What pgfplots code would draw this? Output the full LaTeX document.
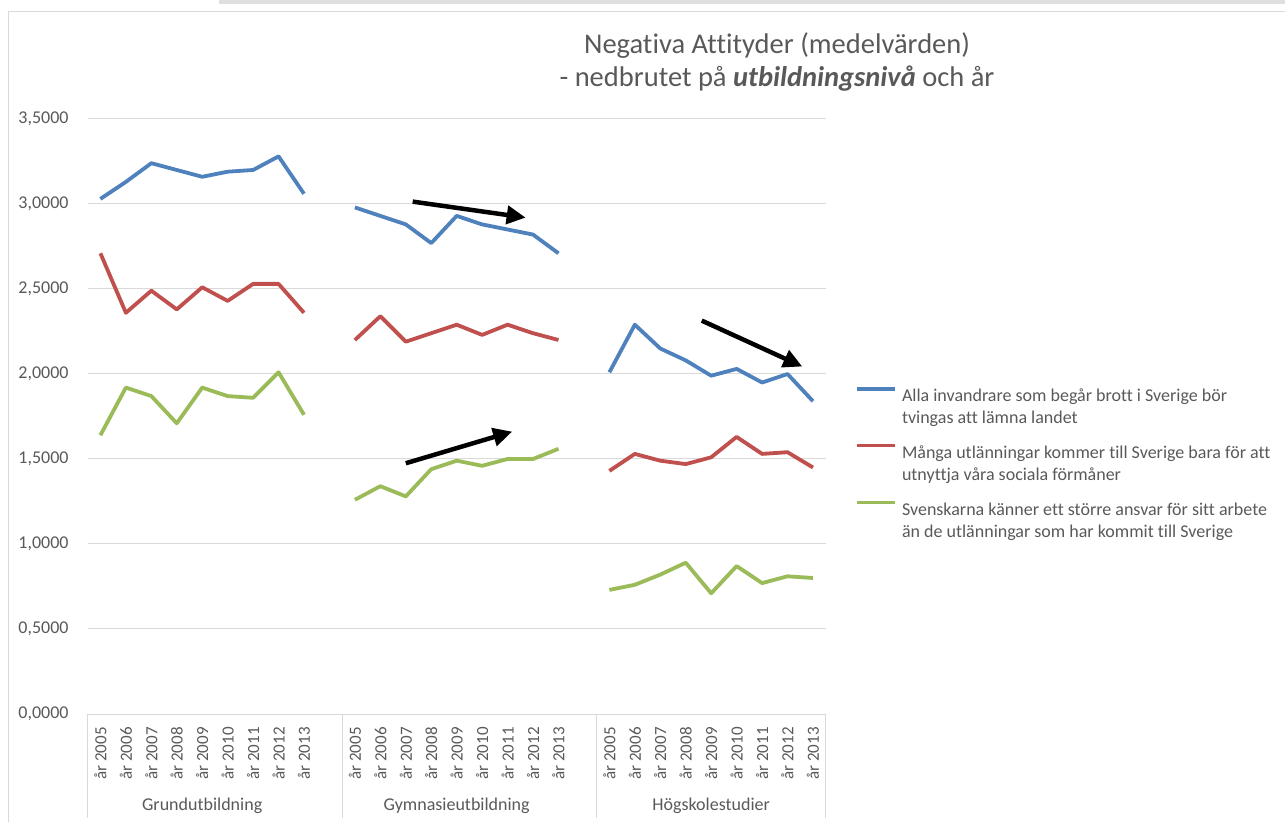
\documentclass[border=0pt]{standalone}
\usepackage{pgfplots}
\pgfplotsset{compat=1.18}
\usepackage{pgfplotstable}
\usepackage{fontspec}
\setmainfont{Carlito}[Ligatures=CommonOff]
\usetikzlibrary{arrows.meta}
\definecolor{cblue}{HTML}{4F81BD}
\definecolor{cred}{HTML}{C0504D}
\definecolor{cgreen}{HTML}{9BBB59}
\definecolor{ctext}{HTML}{595959}
\definecolor{cgrid}{HTML}{D9D9D9}

\pgfplotstableread{
x blue red green
0 3.03 2.71 1.64
1 3.13 2.36 1.92
2 3.24 2.49 1.87
3 3.20 2.38 1.71
4 3.16 2.51 1.92
5 3.19 2.43 1.87
6 3.20 2.53 1.86
7 3.28 2.53 2.01
8 3.06 2.36 1.76
9 nan nan nan
10 2.98 2.20 1.26
11 2.93 2.34 1.34
12 2.88 2.19 1.28
13 2.77 2.24 1.44
14 2.93 2.29 1.49
15 2.88 2.23 1.46
16 2.85 2.29 1.50
17 2.82 2.24 1.50
18 2.71 2.20 1.56
19 nan nan nan
20 2.01 1.43 0.73
21 2.29 1.53 0.76
22 2.15 1.49 0.82
23 2.08 1.47 0.89
24 1.99 1.51 0.71
25 2.03 1.63 0.87
26 1.95 1.53 0.77
27 2.00 1.54 0.81
28 1.84 1.45 0.80
}\datatable

\begin{document}
\begin{tikzpicture}
\useasboundingbox (0pt,0pt) rectangle (1285pt,822pt);
% frame of the screenshot
\fill[cgrid!85!white] (219pt,818pt) rectangle (1285pt,822pt);
\draw[cgrid, line width=1pt] (8pt,0pt) -- (8pt,810pt) -- (1285pt,810pt);
% title
\node[align=center, text=ctext, font=\fontsize{28.5}{33}\selectfont] at (777pt,760.5pt)
  {Negativa Attityder (medelvärden)\\- nedbrutet på \textbf{\textit{utbildningsnivå}} och år};

\begin{axis}[
  at={(87.7pt,108pt)}, anchor=south west,
  scale only axis, width=738pt, height=595pt,
  xmin=-0.5, xmax=28.5, ymin=0, ymax=3.5,
  clip=false,
  axis line style={draw=none},
  major tick length=0pt,
  ymajorgrids, grid style={cgrid, line width=1pt},
  ytick={0,0.5,1,1.5,2,2.5,3,3.5},
  /pgf/number format/assume math mode=true,
  yticklabel style={/pgf/number format/fixed, /pgf/number format/fixed zerofill,
    /pgf/number format/precision=4, /pgf/number format/use comma,
    font=\fontsize{18}{22}\selectfont, text=ctext, inner sep=0pt, anchor=east},
  yticklabel shift=19pt,
  xtick={0,1,2,3,4,5,6,7,8,10,11,12,13,14,15,16,17,18,20,21,22,23,24,25,26,27,28},
  xticklabels={år 2005,år 2006,år 2007,år 2008,år 2009,år 2010,år 2011,år 2012,år 2013,
               år 2005,år 2006,år 2007,år 2008,år 2009,år 2010,år 2011,år 2012,år 2013,
               år 2005,år 2006,år 2007,år 2008,år 2009,år 2010,år 2011,år 2012,år 2013},
  xticklabel style={rotate=90, anchor=east, inner sep=0pt,
    font=\fontsize{17}{20}\selectfont, text=ctext},
  xticklabel shift=13pt,
  unbounded coords=jump,
  legend style={at={(1.0397,0.5513)}, anchor=north west, draw=none, fill=none,
    inner sep=0pt, row sep=40pt, column sep=5pt,
    font=\fontsize{18}{22}\selectfont, text=ctext,
    nodes={inner sep=0pt}, cells={anchor=west}},
  legend image code/.code={\draw[#1] (0pt,6pt) -- (38pt,6pt);},
]
\addplot[cblue, line width=3.8pt, line join=round] table[x=x, y=blue] {\datatable};
\addlegendentry{\begin{tabular}[t]{@{}l@{}}Alla invandrare som begår brott i Sverige bör\\tvingas att lämna landet\end{tabular}}
\addplot[cred, line width=3.8pt, line join=round] table[x=x, y=red] {\datatable};
\addlegendentry{\begin{tabular}[t]{@{}l@{}}Många utlänningar kommer till Sverige bara för att\\utnyttja våra sociala förmåner\end{tabular}}
\addplot[cgreen, line width=3.8pt, line join=round] table[x=x, y=green] {\datatable};
\addlegendentry{\begin{tabular}[t]{@{}l@{}}Svenskarna känner ett större ansvar för sitt arbete\\än de utlänningar som har kommit till Sverige\end{tabular}}

% category frame below the axis
\draw[cgrid, line width=1pt] (axis cs:-0.5,0) -- ++(0pt,-104pt);
\draw[cgrid, line width=1pt] (axis cs:9.5,0) -- ++(0pt,-104pt);
\draw[cgrid, line width=1pt] (axis cs:19.5,0) -- ++(0pt,-104pt);
\draw[cgrid, line width=1pt] (axis cs:28.5,0) -- ++(0pt,-104pt);
\node[font=\fontsize{18}{22}\selectfont, text=ctext] at ([yshift=-92pt]axis cs:4,0) {Grundutbildning};
\node[font=\fontsize{18}{22}\selectfont, text=ctext] at ([yshift=-92pt]axis cs:14,0) {Gymnasieutbildning};
\node[font=\fontsize{18}{22}\selectfont, text=ctext] at ([yshift=-92pt]axis cs:24,0) {Högskolestudier};

% trend arrows
\draw[black, line width=4.5pt, -{Triangle[length=19pt,width=18pt]}] (axis cs:12.27,3.014) -- (axis cs:16.71,2.92);
\draw[black, line width=4.5pt, -{Triangle[length=19pt,width=18pt]}] (axis cs:12.0,1.475) -- (axis cs:16.18,1.661);
\draw[black, line width=4.5pt, -{Triangle[length=19pt,width=18pt]}] (axis cs:23.63,2.314) -- (axis cs:27.58,2.044);
\end{axis}
\end{tikzpicture}
\end{document}
